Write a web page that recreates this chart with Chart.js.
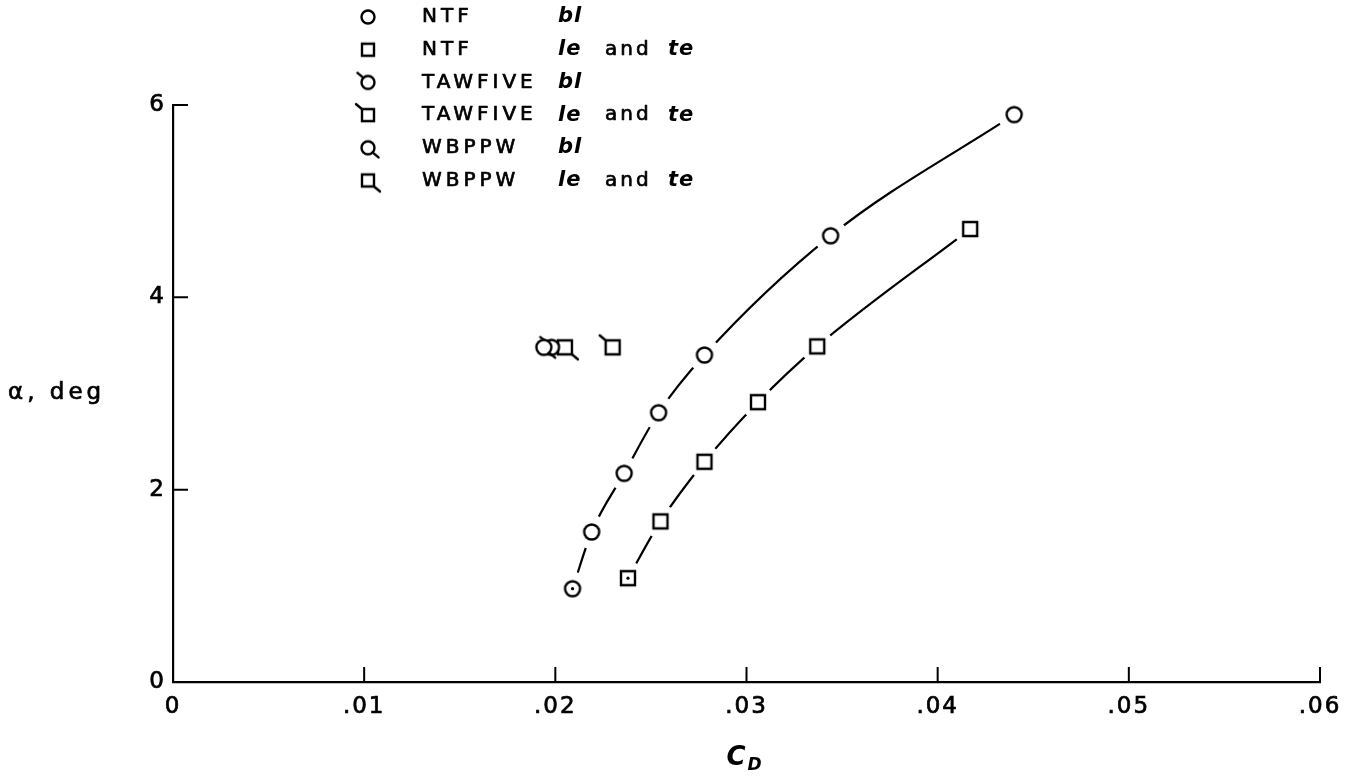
<!DOCTYPE html>
<html>
<head>
<meta charset="utf-8">
<script src="https://cdn.jsdelivr.net/npm/chart.js@4/dist/chart.umd.min.js"></script>
<style>
  html, body { margin: 0; padding: 0; background: #fff; }
  #c { display: block; }
</style>
</head>
<body>
<canvas id="c" width="1360" height="782"></canvas>
<script>
// Drag coefficient C_D against angle of attack (deg)
const ntfBlCd     = [0.0209, 0.0219, 0.0236, 0.0254, 0.0278, 0.0344, 0.0440];
const ntfBlAlpha  = [0.97, 1.56, 2.17, 2.80, 3.40, 4.64, 5.90];
const ntfLeCd     = [0.0238, 0.0255, 0.0278, 0.0306, 0.0337, 0.0417];
const ntfLeAlpha  = [1.08, 1.67, 2.29, 2.91, 3.49, 4.71];
const tawBlCd     = [0.0198];
const tawBlAlpha  = [3.48];
const tawLeCd     = [0.0230];
const tawLeAlpha  = [3.48];
const wbpBlCd     = [0.0194];
const wbpBlAlpha  = [3.48];
const wbpLeCd     = [0.0205];
const wbpLeAlpha  = [3.48];

const xTickValues = [0, 0.01, 0.02, 0.03, 0.04, 0.05, 0.06];
const xTickLabels = ['0', '.01', '.02', '.03', '.04', '.05', '.06'];
const yTickValues = [0, 2, 4, 6];
const yTickLabels = ['0', '2', '4', '6'];

const legendNames = ['NTF', 'NTF', 'TAWFIVE', 'TAWFIVE', 'WBPPW', 'WBPPW'];
const legendDescs = [['bl'], ['le', 'and', 'te'], ['bl'], ['le', 'and', 'te'], ['bl'], ['le', 'and', 'te']];

const FONT = '"DejaVu Sans", "Liberation Sans", sans-serif';

const pts = (xs, ys) => xs.map((v, i) => ({ x: v, y: ys[i] }));

// Open circle / square symbols, optionally flagged at upper-left or lower-right
function makeSymbol(shape, flag, r) {
  const s = 44, m = s / 2;
  const c = document.createElement('canvas');
  c.width = s; c.height = s;
  const g = c.getContext('2d');
  g.strokeStyle = '#000';
  g.fillStyle = '#fff';
  g.lineWidth = 2.4;
  g.lineCap = 'round';
  g.beginPath();
  if (shape === 'circle') g.arc(m, m, r, 0, Math.PI * 2);
  else g.rect(m - r, m - r, 2 * r, 2 * r);
  g.fill();
  g.stroke();
  if (flag) {
    const d = shape === 'circle' ? r * Math.SQRT1_2 : r;
    const k = flag === 'ul' ? -1 : 1;
    g.beginPath();
    g.moveTo(m + k * d, m + k * d);
    g.lineTo(m + k * (d + 6), m + k * (d + 5));
    g.stroke();
  }
  return c;
}

const plotSymbols = [
  makeSymbol('circle', null, 7.5),
  makeSymbol('square', null, 7),
  makeSymbol('circle', 'ul', 7.5),
  makeSymbol('square', 'ul', 7),
  makeSymbol('circle', 'lr', 7.5),
  makeSymbol('square', 'lr', 7)
];
const legendSymbols = [
  makeSymbol('circle', null, 6.5),
  makeSymbol('square', null, 6),
  makeSymbol('circle', 'ul', 6.5),
  makeSymbol('square', 'ul', 6),
  makeSymbol('circle', 'lr', 6.5),
  makeSymbol('square', 'lr', 6)
];

const markerSet = (data, sym) => ({
  data, showLine: false, pointStyle: sym, pointRadius: 8, order: 10
});
const haloSet = (data) => ({
  data, showLine: false, pointStyle: 'circle', pointRadius: 17,
  pointBackgroundColor: '#fff', pointBorderWidth: 0, order: 20
});
const curveSet = (data) => ({
  data, showLine: true, pointRadius: 0, borderColor: '#000', borderWidth: 2.2,
  cubicInterpolationMode: 'monotone', fill: false, order: 30
});

// text drawn with a thin outline for the heavier lettering stroke
function heavyText(ctx, text, x, y) {
  ctx.fillText(text, x, y);
  ctx.strokeText(text, x, y);
}

const decorations = {
  id: 'decorations',
  beforeDraw(chart) {
    const ctx = chart.ctx;
    ctx.fillStyle = '#fff';
    ctx.fillRect(0, 0, chart.width, chart.height);
    ctx.letterSpacing = '2px';
  },
  afterDraw(chart) {
    const { ctx, scales: { x, y } } = chart;
    const x0 = x.getPixelForValue(0);
    const y0 = y.getPixelForValue(0);
    ctx.save();
    ctx.strokeStyle = '#000';
    ctx.lineWidth = 2;
    // inward tick marks
    ctx.beginPath();
    xTickValues.forEach(v => {
      if (v === 0) return;
      const px = x.getPixelForValue(v);
      ctx.moveTo(px, y0);
      ctx.lineTo(px, y0 - 15);
    });
    yTickValues.forEach(v => {
      if (v === 0) return;
      const py = y.getPixelForValue(v);
      ctx.moveTo(x0, py);
      ctx.lineTo(x0 + 15, py);
    });
    ctx.stroke();

    // axis titles
    ctx.fillStyle = '#000';
    ctx.lineWidth = 0.7;
    ctx.lineJoin = 'round';
    ctx.textBaseline = 'middle';
    ctx.textAlign = 'left';
    ctx.letterSpacing = '4px';
    ctx.font = '23px ' + FONT;
    heavyText(ctx, '\u03b1, deg', 8, (y.top + y.bottom) / 2);

    const cx = (x.left + x.right) / 2;
    ctx.letterSpacing = '0px';
    ctx.font = 'bold italic 26px ' + FONT;
    ctx.textAlign = 'right';
    ctx.fillText('C', cx - 1, 758);
    ctx.font = 'bold italic 17px ' + FONT;
    ctx.textAlign = 'left';
    ctx.fillText('D', cx + 1, 766);

    // legend
    const rowY0 = 17, rowGap = 32.7;
    const descX = { bl: 558, le: 558, and: 605, te: 668 };
    legendNames.forEach((name, i) => {
      const yy = rowY0 + i * rowGap;
      const sym = legendSymbols[i];
      ctx.drawImage(sym, 368 - sym.width / 2, yy - sym.height / 2);
      ctx.letterSpacing = '4px';
      ctx.font = '20px ' + FONT;
      ctx.textAlign = 'left';
      heavyText(ctx, name, 422, yy);
      legendDescs[i].forEach(word => {
        if (word === 'and') {
          ctx.letterSpacing = '3px';
          ctx.font = '20px ' + FONT;
          heavyText(ctx, word, descX[word], yy);
        } else {
          ctx.letterSpacing = '1px';
          ctx.font = 'bold italic 21px ' + FONT;
          ctx.fillText(word, descX[word], yy);
        }
      });
    });
    ctx.restore();
  }
};

new Chart(document.getElementById('c'), {
  type: 'scatter',
  data: {
    datasets: [
      curveSet(pts(ntfBlCd, ntfBlAlpha)),
      curveSet(pts(ntfLeCd, ntfLeAlpha)),
      haloSet(pts(ntfBlCd, ntfBlAlpha)),
      haloSet(pts(ntfLeCd, ntfLeAlpha)),
      markerSet(pts(ntfBlCd, ntfBlAlpha), plotSymbols[0]),
      markerSet(pts(ntfLeCd, ntfLeAlpha), plotSymbols[1]),
      markerSet(pts(wbpBlCd, wbpBlAlpha), plotSymbols[4]),
      markerSet(pts(tawBlCd, tawBlAlpha), plotSymbols[2]),
      markerSet(pts(wbpLeCd, wbpLeAlpha), plotSymbols[5]),
      markerSet(pts(tawLeCd, tawLeAlpha), plotSymbols[3]),
      // centre dots on the lowest NTF points
      {
        data: [{ x: ntfBlCd[0], y: ntfBlAlpha[0] }, { x: ntfLeCd[0], y: ntfLeAlpha[0] }],
        showLine: false, pointStyle: 'circle', pointRadius: 1.6,
        pointBackgroundColor: '#000', pointBorderWidth: 0, order: 0
      }
    ]
  },
  options: {
    responsive: false,
    animation: false,
    devicePixelRatio: 1,
    events: [],
    layout: { padding: { top: 105, right: 40, left: 0, bottom: 0 } },
    plugins: { legend: { display: false }, tooltip: { enabled: false } },
    scales: {
      x: {
        type: 'linear', min: 0, max: 0.06,
        afterBuildTicks: s => { s.ticks = xTickValues.map(v => ({ value: v })); },
        afterFit: s => { s.height = 100; },
        grid: { display: true, drawOnChartArea: false, drawTicks: false },
        border: { display: true, color: '#000', width: 2.2 },
        ticks: {
          color: '#000', padding: 11, maxRotation: 0, autoSkip: false,
          textStrokeColor: '#000', textStrokeWidth: 0.7,
          font: { family: FONT, size: 23 },
          callback: (v, i) => xTickLabels[i]
        }
      },
      y: {
        type: 'linear', min: 0, max: 6,
        afterBuildTicks: s => { s.ticks = yTickValues.map(v => ({ value: v })); },
        afterFit: s => { s.width = 173; },
        grid: { display: true, drawOnChartArea: false, drawTicks: false },
        border: { display: true, color: '#000', width: 2.2 },
        ticks: {
          color: '#000', padding: 7,
          textStrokeColor: '#000', textStrokeWidth: 0.7,
          font: { family: FONT, size: 23 },
          callback: (v, i) => yTickLabels[i]
        }
      }
    }
  },
  plugins: [decorations]
});
</script>
</body>
</html>
